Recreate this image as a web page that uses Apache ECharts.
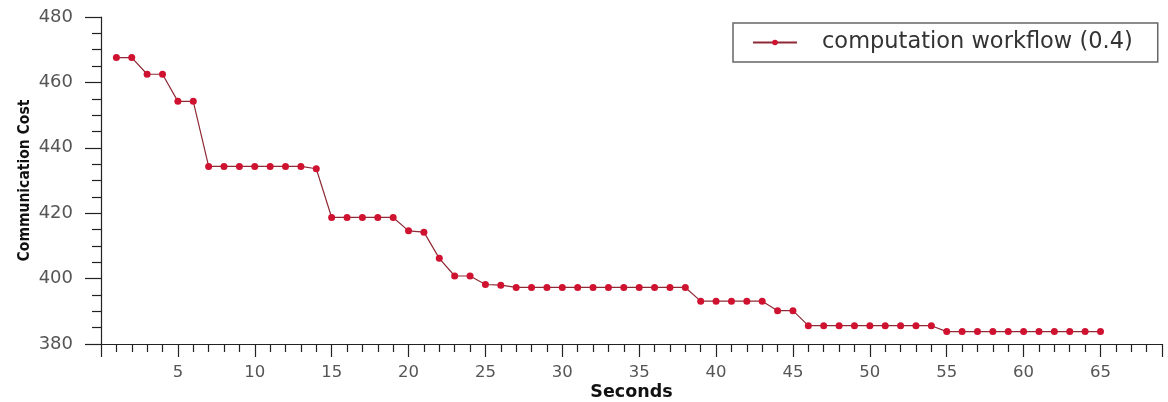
<!DOCTYPE html>
<html>
<head>
<meta charset="utf-8">
<script src="https://cdn.jsdelivr.net/npm/echarts@6/dist/echarts.min.js"></script>
<style>
html,body{margin:0;padding:0;background:#fff;}
#chart{width:1168px;height:402px;}
</style>
</head>
<body>
<div id="chart"></div>
<script>
const seriesName = 'computation workflow (0.4)';
const seconds = [1,2,3,4,5,6,7,8,9,10,11,12,13,14,15,16,17,18,19,20,21,22,23,24,25,26,27,28,29,30,31,32,33,34,35,36,37,38,39,40,41,42,43,44,45,46,47,48,49,50,51,52,53,54,55,56,57,58,59,60,61,62,63,64,65];
const cost = [467.6,467.6,462.5,462.5,454.2,454.2,434.3,434.3,434.3,434.3,434.3,434.3,434.3,433.6,418.7,418.7,418.7,418.7,418.7,414.6,414.2,406.2,400.8,400.8,398.2,398.0,397.3,397.3,397.3,397.3,397.3,397.3,397.3,397.3,397.3,397.3,397.3,397.3,393.1,393.1,393.1,393.1,393.1,390.2,390.2,385.6,385.6,385.6,385.6,385.6,385.6,385.6,385.6,385.6,383.8,383.8,383.8,383.8,383.8,383.8,383.8,383.8,383.8,383.8,383.8];
const xName = 'Seconds';
const yName = 'Communication Cost';

const chart = echarts.init(document.getElementById('chart'));
chart.setOption({
  animation:false,
  backgroundColor:'#fff',
  grid:{left:101, top:17, right:6, bottom:58, containLabel:false, outerBoundsMode:'none'},
  legend:{
    data:[seriesName],
    left:733, top:23,
    padding:[8,25,8,19],
    borderColor:'#666', borderWidth:1.5,
    itemWidth:44, itemHeight:7,
    textStyle:{fontFamily:'DejaVu Sans', fontSize:22.5, color:'#333', padding:[0,0,0,20]}
  },
  xAxis:{
    type:'value', min:0, max:69, interval:5,
    name:xName, nameLocation:'middle', nameGap:39, nameMoveOverlap:false,
    nameTextStyle:{fontFamily:'DejaVu Sans', fontWeight:'bold', fontSize:17.5, color:'#111'},
    axisLine:{lineStyle:{color:'#222', width:1.2}},
    axisTick:{show:true, inside:false, length:13, lineStyle:{color:'#222', width:1.2}},
    minorTick:{show:true, splitNumber:5, length:8, lineStyle:{color:'#222', width:1.2}},
    axisLabel:{margin:20, showMinLabel:false, showMaxLabel:false, color:'#555', fontFamily:'DejaVu Sans', fontSize:16.5},
    splitLine:{show:false}
  },
  yAxis:{
    type:'value', min:380, max:480, interval:20,
    name:yName, nameLocation:'middle', nameGap:68, nameMoveOverlap:false,
    nameTextStyle:{fontFamily:'DejaVu Sans Condensed', fontWeight:'bold', fontSize:15.5, color:'#111'},
    axisLine:{show:true, lineStyle:{color:'#222', width:1.2}},
    axisTick:{show:true, inside:false, length:16, lineStyle:{color:'#222', width:1.2}},
    minorTick:{show:true, splitNumber:4, length:9, lineStyle:{color:'#222', width:1.2}},
    axisLabel:{margin:28, color:'#555', fontFamily:'DejaVu Sans', fontSize:18},
    splitLine:{show:false}
  },
  series:[{
    name:seriesName,
    type:'line',
    data:seconds.map((s,i)=>[s,cost[i]]),
    symbol:'circle', symbolSize:7,
    lineStyle:{color:'#8e2a35', width:1.2},
    itemStyle:{color:'#cf1230'},
    z:3
  }]
});
</script>
</body>
</html>
